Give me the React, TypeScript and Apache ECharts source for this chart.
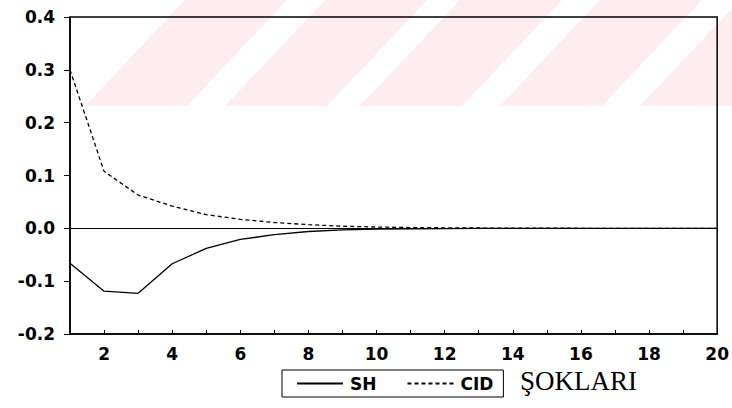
import React, { useEffect, useRef } from "react";
import * as echarts from "echarts";

const periods = [1, 2, 3, 4, 5, 6, 7, 8, 9, 10, 11, 12, 13, 14, 15, 16, 17, 18, 19, 20];
const shValues = [-0.066, -0.119, -0.123, -0.067, -0.038, -0.021, -0.012, -0.006, -0.003, -0.0015, -0.0008, -0.0004, -0.0002, -0.0001, 0, 0, 0, 0, 0, 0];
const cidValues = [0.3, 0.108, 0.063, 0.042, 0.026, 0.017, 0.011, 0.007, 0.004, 0.0025, 0.0015, 0.001, 0.0006, 0.0004, 0.0002, 0.0001, 0.0001, 0, 0, 0];
const seriesNames = ["SH", "CID"];
const titleText = "ŞOKLARI";
const stripeStarts = [85, 225, 360, 500, 640];

const labelFont = "'DejaVu Sans', 'Liberation Sans', sans-serif";

export default function App() {
  const ref = useRef<HTMLDivElement>(null);
  useEffect(() => {
    if (!ref.current) return;
    const chart = echarts.init(ref.current, null, { renderer: "svg" });
    const stripes = stripeStarts.map((bx) => ({
      type: "polygon",
      z: -10,
      silent: true,
      shape: {
        points: [
          [bx, 106],
          [bx + 102, 106],
          [bx + 202, 0],
          [bx + 100, 0],
        ],
      },
      style: { fill: "#fdedf0" },
    }));
    chart.setOption({
      animation: false,
      backgroundColor: "#ffffff",
      title: {
        text: titleText,
        left: 515,
        top: 362,
        textStyle: {
          fontFamily: "'Liberation Serif', 'DejaVu Serif', serif",
          fontSize: 27,
          fontWeight: "normal",
          color: "#000",
        },
      },
      graphic: stripes,
      legend: {
        left: 282,
        top: 370,
        orient: "horizontal",
        data: seriesNames,
        borderColor: "#000",
        borderWidth: 1,
        borderRadius: 0,
        padding: [5, 10, 5, 14],
        itemGap: 30,
        itemWidth: 46,
        itemHeight: 14,
        itemStyle: { opacity: 0, borderWidth: 0, color: "transparent" },
        textStyle: {
          fontFamily: labelFont,
          fontWeight: "bold",
          fontSize: 17,
          color: "#000",
          padding: [0, 4, 0, 2],
        },
      },
      grid: {
        left: 70,
        right: 11,
        top: 17,
        bottom: 74,
        show: true,
        borderColor: "#000",
        borderWidth: 1.5,
        backgroundColor: "transparent",
      },
      xAxis: {
        type: "value",
        min: 1,
        max: 20,
        interval: 1,
        axisLine: { show: true, onZero: false, lineStyle: { color: "#000", width: 1.5 } },
        axisTick: { show: true, inside: true, length: 4, lineStyle: { color: "#000", width: 1 } },
        splitLine: { show: false },
        axisLabel: {
          margin: 11,
          color: "#000",
          fontFamily: labelFont,
          fontWeight: "bold",
          fontSize: 17,
          formatter: (v: number) => (v % 2 === 0 ? String(v) : ""),
        },
      },
      yAxis: {
        type: "value",
        min: -0.2,
        max: 0.4,
        interval: 0.1,
        axisLine: { show: true, onZero: false, lineStyle: { color: "#000", width: 1.5 } },
        axisTick: { show: true, inside: false, length: 6, lineStyle: { color: "#000", width: 1 } },
        splitLine: { show: false },
        axisLabel: {
          margin: 15,
          color: "#000",
          fontFamily: labelFont,
          fontWeight: "bold",
          fontSize: 17,
          formatter: (v: number) => v.toFixed(1),
        },
      },
      series: [
        {
          name: seriesNames[0],
          type: "line",
          data: periods.map((p, i) => [p, shValues[i]]),
          symbol: "none",
          showSymbol: false,
          lineStyle: { color: "#000", width: 1.3, type: "solid" },
          itemStyle: { color: "#000" },
          markLine: {
            silent: true,
            symbol: "none",
            label: { show: false },
            lineStyle: { color: "#000", width: 1.2, type: "solid" },
            data: [{ yAxis: 0 }],
          },
        },
        {
          name: seriesNames[1],
          type: "line",
          data: periods.map((p, i) => [p, cidValues[i]]),
          symbol: "none",
          showSymbol: false,
          lineStyle: { color: "#000", width: 1.3, type: [4, 3] },
          itemStyle: { color: "#000" },
        },
      ],
    });
    return () => chart.dispose();
  }, []);
  return <div ref={ref} style={{ width: 732, height: 408, position: "absolute", left: 0, top: 0 }} />;
}
